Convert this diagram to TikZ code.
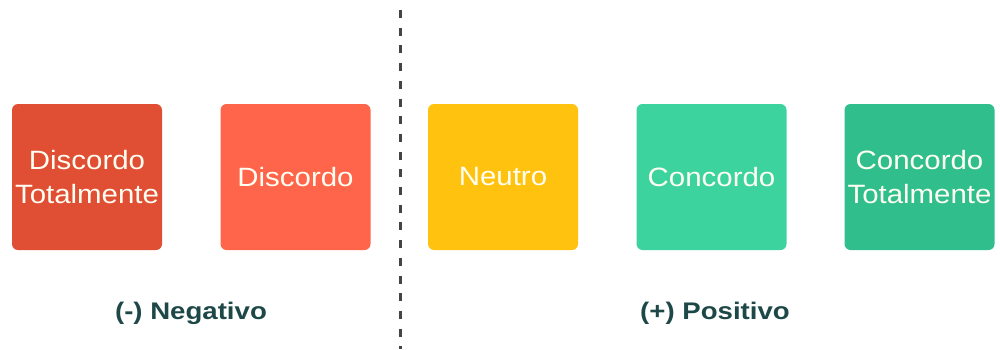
\documentclass[tikz,border=0pt]{standalone}
\usepackage{fontspec}
\setmainfont{Liberation Sans}
\newfontfamily\cardfont[FakeStretch=1.11]{Liberation Sans}
\newfontfamily\sidefont[FakeStretch=1.15]{Liberation Sans}
\definecolor{dtot}{HTML}{E04E34}
\definecolor{disc}{HTML}{FF654A}
\definecolor{neut}{HTML}{FFC20E}
\definecolor{conc}{HTML}{3DD39F}
\definecolor{ctot}{HTML}{30BF8C}
\definecolor{labc}{HTML}{1E4848}
\definecolor{sep}{HTML}{444444}
\begin{document}
\begin{tikzpicture}[x=1pt,y=-1pt,
  card/.style={rounded corners=6pt, minimum width=150pt, minimum height=146pt,
    inner sep=0pt, align=center, text=white!95!yellow,
    font=\cardfont\fontsize{26.5}{34}\selectfont},
  side/.style={text=labc, font=\sidefont\fontsize{24}{26}\selectfont\bfseries},
  divider/.style={sep, line width=3pt, dash pattern=on 8pt off 9.7pt}]
  \useasboundingbox (0,0) rectangle (1000,349);
  % answer cards
  \node[card, fill=dtot] (dt) at (87,177) {Discordo\\Totalmente};
  \node[card, fill=disc] (d)  at (295.5,177) {Discordo};
  \node[card, fill=neut] (n)  at (503,177) {Neutro};
  \node[card, fill=conc] (c)  at (711.5,177) {Concordo};
  \node[card, fill=ctot] (ct) at (919.5,177) {Concordo\\Totalmente};
  % group captions
  \node[side] (neg) at (191,313) {(-) Negativo};
  \node[side] (pos) at (715,313) {(+) Positivo};
  % dashed separator
  \coordinate (top) at (400,10);
  \coordinate (bot) at (400,349);
  \draw[divider] (top) -- (bot);
\end{tikzpicture}
\end{document}
